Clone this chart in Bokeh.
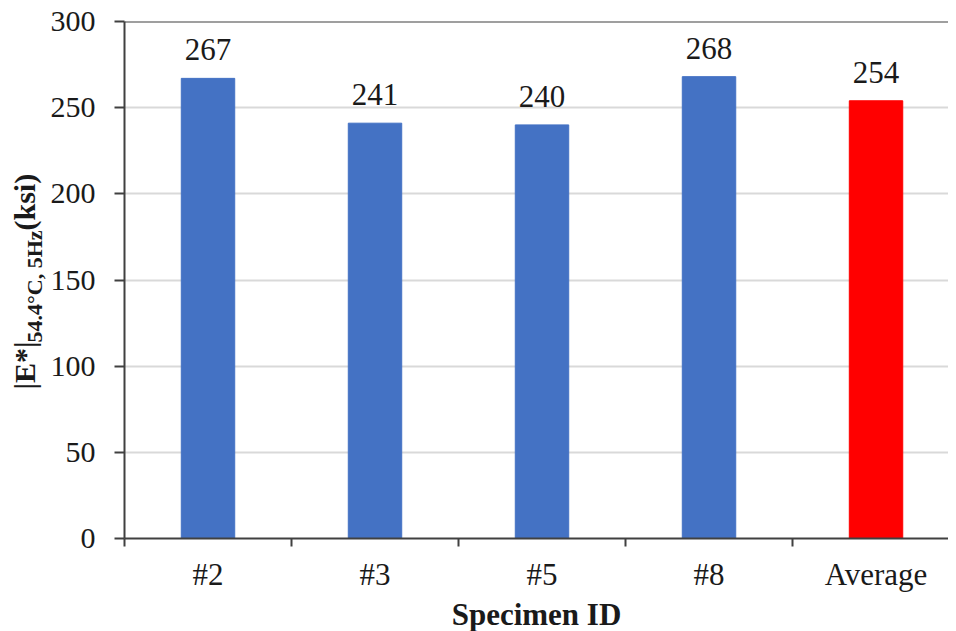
import numpy as np
from math import pi
from bokeh.plotting import figure
from bokeh.layouts import row
from bokeh.models import ColumnDataSource, Range1d, FixedTicker, LabelSet, Span
from bokeh.core.properties import value
from bokeh.embed import file_html
from bokeh.resources import INLINE

categories = ["#2", "#3", "#5", "#8", "Average"]
values = [267, 241, 240, 268, 254]
colors = ["#4472C4", "#4472C4", "#4472C4", "#4472C4", "#FF0000"]
y_ticks = [0, 50, 100, 150, 200, 250, 300]

FONT = "Liberation Serif"
TXT = "#1a1a1a"
AX = "#404040"
FS = "31px"

TOTAL_H = 630
SIDE_W = 46

pos = np.arange(len(categories)) + 0.5
src = ColumnDataSource(dict(x=pos, top=values, color=colors,
                            label=[str(v) for v in values]))

p = figure(frame_width=824, frame_height=517,
           x_range=Range1d(0, 4.934), y_range=Range1d(0, 300),
           output_backend="svg", toolbar_location=None,
           min_border_left=124 - SIDE_W, min_border_top=21, min_border_right=0,
           min_border_bottom=TOTAL_H - 21 - 517)
p.outline_line_color = None
p.background_fill_color = "white"

p.vbar(x="x", top="top", width=0.32, fill_color="color", line_color="color", source=src)

p.add_layout(LabelSet(x="x", y="top", text="label", source=src, text_align="center",
                      text_baseline="alphabetic", y_offset=18, text_font=FONT,
                      text_font_size=FS, text_color=TXT))

# x axis: labels at category centres, ticks between categories
xa = p.xaxis[0]
xa.ticker = FixedTicker(ticks=list(pos), minor_ticks=list(range(len(categories) + 1)))
xa.major_label_overrides = {float(x): c for x, c in zip(pos, categories)}
xa.major_tick_line_color = None
xa.major_tick_out = 0
xa.major_tick_in = 0
xa.minor_tick_line_color = AX
xa.minor_tick_line_width = 2
xa.minor_tick_out = 8
xa.minor_tick_in = 0
xa.major_label_standoff = 10
xa.major_label_text_font_size = FS
xa.axis_label = "Specimen ID"
xa.axis_label_text_font = FONT
xa.axis_label_text_font_style = "bold"
xa.axis_label_text_font_size = FS
xa.axis_label_text_color = TXT
xa.axis_label_standoff = 2

ya = p.yaxis[0]
ya.ticker = FixedTicker(ticks=y_ticks)
ya.major_tick_out = 10
ya.major_tick_in = 0
ya.major_tick_line_width = 2
ya.major_tick_line_color = AX
ya.minor_tick_line_color = None
ya.major_label_standoff = 19
ya.major_label_text_font_size = "30px"

for ax in (xa, ya):
    ax.axis_line_color = AX
    ax.axis_line_width = 2
    ax.major_label_text_font = FONT
    ax.major_label_text_color = TXT

p.xgrid.visible = False
p.ygrid.ticker = FixedTicker(ticks=y_ticks)
p.ygrid.grid_line_color = "#d9d9d9"
p.ygrid.grid_line_width = 2
p.add_layout(Span(location=y_ticks[-1], dimension="width", line_color=AX, line_width=2))

# narrow side panel holding the rotated y-axis title (with subscript)
s = figure(frame_width=SIDE_W, frame_height=TOTAL_H,
           x_range=Range1d(0, SIDE_W), y_range=Range1d(0, TOTAL_H),
           output_backend="svg", toolbar_location=None,
           min_border=0, min_border_left=0, min_border_right=0,
           min_border_top=0, min_border_bottom=0)
s.axis.visible = False
s.grid.visible = False
s.outline_line_color = None

title_style = dict(angle=pi / 2, text_align="left", text_baseline="alphabetic",
                   text_font=value(FONT), text_font_style="bold", text_color=TXT)
s.text(x=[24], y=[TOTAL_H - 368], text=["|E*|"], text_font_size=value("30px"), **title_style)
s.text(x=[34], y=[TOTAL_H - 321], text=["54.4°C, 5Hz"], text_font_size=value("22px"), **title_style)
s.text(x=[24], y=[TOTAL_H - 209], text=["(ksi)"], text_font_size=value("30px"), **title_style)

layout = row(s, p, spacing=0)
open("out.html", "w").write(file_html(layout, INLINE))
